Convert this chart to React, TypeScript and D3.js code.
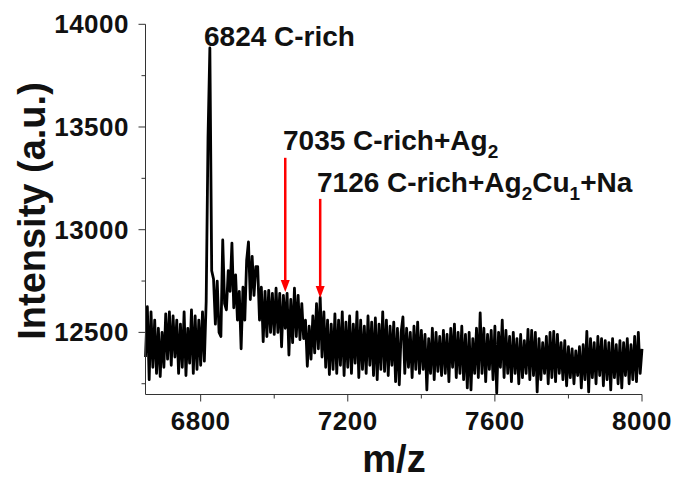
import React from "react";
import * as d3 from "d3";

const mzStart = 6650;
const mzStep = 5;
const intensity = [
  12380, 12625, 12270, 12600, 12330, 12560, 12300, 12520, 12285, 12500, 12330,
  12590, 12370, 12600, 12340, 12580, 12380, 12560, 12300, 12540, 12330,
  12600, 12290, 12520, 12350, 12610, 12300, 12580, 12320, 12560, 12340,
  12600, 12360, 12650, 13450, 13885, 12800, 12760, 12540, 12750, 12500,
  12480, 12950, 12640, 12610, 12800, 12700, 12935, 12620, 12780, 12560,
  12700, 12420, 12720, 12560, 12850, 12940, 12660, 12870, 12680, 12820,
  12820, 12560, 12720, 12455, 12700, 12480, 12705, 12500, 12690, 12490,
  12715, 12500, 12690, 12430, 12680, 12520, 12690, 12390, 12660, 12450,
  12715, 12480, 12680, 12465, 12640, 12470, 12560, 12335, 12530, 12370,
  12580, 12400, 12640, 12420, 12670, 12380, 12600, 12330, 12560, 12295,
  12540, 12320, 12590, 12300, 12560, 12340, 12600, 12290, 12550, 12330,
  12580, 12300, 12540, 12350, 12600, 12280, 12560, 12320, 12530, 12300,
  12580, 12340, 12550, 12290, 12570, 12270, 12540, 12320, 12600, 12310,
  12560, 12290, 12530, 12340, 12550, 12260, 12520, 12245, 12500, 12575,
  12300, 12520, 12330, 12500, 12280, 12530, 12320, 12550, 12300, 12510,
  12320, 12490, 12220, 12470, 12300, 12520, 12270, 12500, 12310, 12480,
  12290, 12510, 12300, 12490, 12260, 12520, 12330, 12540, 12280, 12500,
  12300, 12530, 12270, 12490, 12230, 12500, 12220, 12470, 12300, 12520,
  12280, 12595, 12300, 12520, 12260, 12490, 12320, 12510, 12270, 12530,
  12205, 12500, 12330, 12560, 12280, 12510, 12300, 12480, 12260, 12500,
  12300, 12470, 12250, 12490, 12280, 12460, 12300, 12515, 12270, 12510,
  12290, 12500, 12210, 12470, 12270, 12450, 12300, 12480, 12250, 12500,
  12280, 12505, 12260, 12490, 12300, 12450, 12270, 12460, 12240, 12430,
  12280, 12420, 12250, 12410, 12290, 12430, 12230, 12440, 12270, 12505,
  12210, 12470, 12280, 12450, 12250, 12480, 12290, 12470, 12240, 12460,
  12270, 12450, 12220, 12470, 12280, 12440, 12250, 12460, 12230, 12450,
  12290, 12470, 12250, 12440, 12270, 12480, 12260, 12500, 12300, 12420,
];

const xTicksMajor = [6800, 7200, 7600, 8000];
const xTicksMinor = [7000, 7400, 7800];
const yTicksMajor = [12500, 13000, 13500, 14000];
const yTicksMinor = [12250, 12750, 13250, 13750];

// Arrows: m/z position, top and tip intensity
const arrowMz = [7030, 7125];
const arrowTop = [13350, 13150];
const arrowTip = [12697, 12668];

const W = 678;
const H = 479;

export default function App() {
  const x = d3.scaleLinear().domain([6650, 8000]).range([145.5, 642]);
  const y = d3.scaleLinear().domain([12200, 14000]).range([394, 24.3]);

  const line = d3
    .line<number>()
    .x((_, i) => x(mzStart + i * mzStep))
    .y((d) => y(d));

  const font = "'Liberation Sans', Arial, sans-serif";
  const axisColor = "#333";

  return (
    <svg
      width={W}
      height={H}
      style={{ position: "absolute", left: 0, top: 0, background: "#fff" }}
      fontFamily={font}
    >
      <rect width={W} height={H} fill="#fff" />
      {/* spectrum */}
      <path
        d={line(intensity) || ""}
        fill="none"
        stroke="#000"
        strokeWidth={2.8}
        strokeLinejoin="round"
      />
      {/* axes */}
      <line x1={145.5} x2={145.5} y1={y(14000)} y2={394.5} stroke={axisColor} strokeWidth={1} />
      <line x1={145.5} x2={642} y1={394.5} y2={394.5} stroke={axisColor} strokeWidth={1} />
      {yTicksMajor.map((t) => (
        <g key={"ym" + t}>
          <line x1={138.5} x2={145.5} y1={y(t)} y2={y(t)} stroke={axisColor} />
          <text
            x={129}
            y={y(t) + 9}
            textAnchor="end"
            fontSize={26}
            fontWeight="bold"
            letterSpacing={0.5}
            fill="#111"
          >
            {t}
          </text>
        </g>
      ))}
      {yTicksMinor.map((t) => (
        <line key={"yn" + t} x1={141.5} x2={145.5} y1={y(t)} y2={y(t)} stroke={axisColor} />
      ))}
      {xTicksMajor.map((t) => (
        <g key={"xm" + t}>
          <line x1={x(t)} x2={x(t)} y1={394.5} y2={401.5} stroke={axisColor} />
          <text
            x={x(t)}
            y={430}
            textAnchor="middle"
            fontSize={26}
            fontWeight="bold"
            letterSpacing={0.5}
            fill="#111"
          >
            {t}
          </text>
        </g>
      ))}
      {xTicksMinor.map((t) => (
        <line key={"xn" + t} x1={x(t)} x2={x(t)} y1={394.5} y2={398.5} stroke={axisColor} />
      ))}
      {/* axis titles */}
      <text
        transform="translate(45,211) rotate(-90)"
        textAnchor="middle"
        fontSize={38}
        fontWeight="bold"
        fill="#111"
      >
        Intensity (a.u.)
      </text>
      <text x={394} y={472} textAnchor="middle" fontSize={38} fontWeight="bold" fill="#111">
        m/z
      </text>
      {/* annotations */}
      <text x={204} y={46} fontSize={28} fontWeight="bold" fill="#111">
        6824 C-rich
      </text>
      <text x={283} y={150} fontSize={28} fontWeight="bold" fill="#111">
        7035 C-rich+Ag
        <tspan fontSize={19} dy={8}>2</tspan>
      </text>
      <text x={317} y={192} fontSize={28} fontWeight="bold" fill="#111">
        7126 C-rich+Ag
        <tspan fontSize={19} dy={8}>2</tspan>
        <tspan dy={-8}>Cu</tspan>
        <tspan fontSize={19} dy={8}>1</tspan>
        <tspan dy={-8}>+Na</tspan>
      </text>
      {/* red arrows */}
      {arrowMz.map((m, i) => {
        const ax = x(m);
        const yTop = y(arrowTop[i]);
        const yTip = y(arrowTip[i]);
        return (
          <g key={"ar" + i}>
            <line x1={ax} x2={ax} y1={yTop} y2={yTip - 10} stroke="#ff0000" strokeWidth={2.5} />
            <path
              d={`M${ax - 4.5},${yTip - 12} L${ax + 4.5},${yTip - 12} L${ax},${yTip} Z`}
              fill="#ff0000"
            />
          </g>
        );
      })}
    </svg>
  );
}
